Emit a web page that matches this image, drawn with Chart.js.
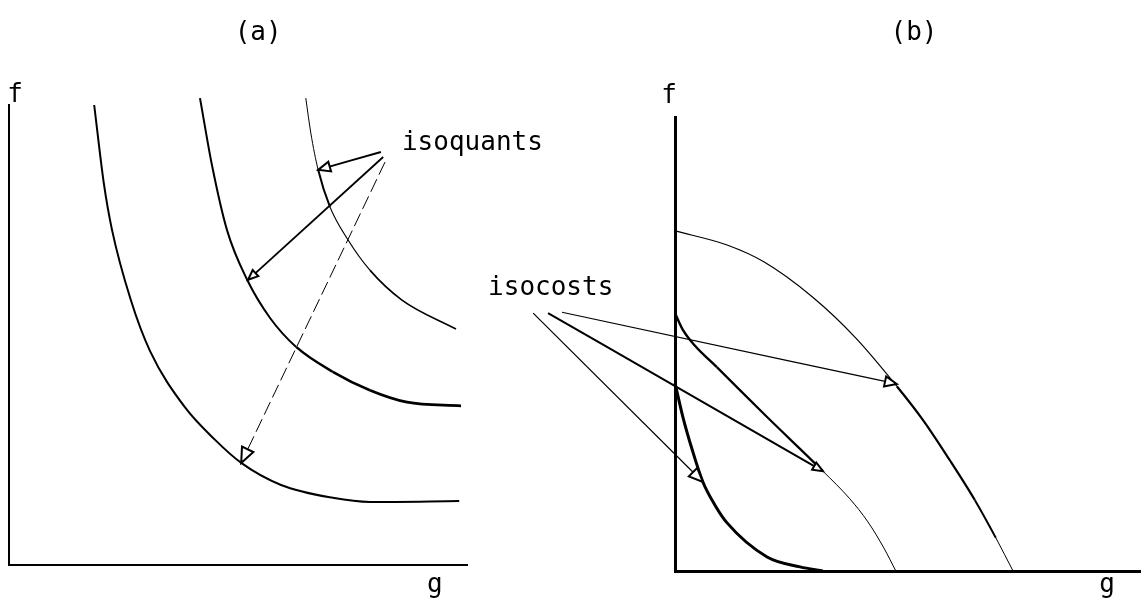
<!DOCTYPE html>
<html>
<head>
<meta charset="utf-8">
<script src="https://cdn.jsdelivr.net/npm/chart.js@4.4.0/dist/chart.umd.min.js"></script>
<style>
  body { margin: 0; background: #fff; }
  #wrap { position: relative; width: 1147px; height: 606px; }
  canvas { position: absolute; top: 0; }
  #chartA { left: 0; }
  #chartB { left: 470px; }
</style>
</head>
<body>
<div id="wrap">
  <canvas id="chartA" width="600" height="606"></canvas>
  <canvas id="chartB" width="677" height="606"></canvas>
</div>
<script>
// panel (a) - isoquants, g on x, f on y, both 0..10
const isoquant1 = [[1.86, 10.0], [2.07, 8.30], [2.25, 7.28], [2.66, 5.76], [3.08, 4.65], [3.84, 3.43],
  [4.50, 2.72], [5.07, 2.22], [5.94, 1.74], [7.07, 1.46], [7.88, 1.37], [9.83, 1.39]];
const isoquant2 = [[4.17, 10.15], [4.43, 8.70], [4.76, 7.28], [5.20, 6.20], [5.70, 5.37], [6.27, 4.74],
  [7.07, 4.20], [7.88, 3.80], [8.69, 3.54], [9.87, 3.46]];
const isoquant3 = [[6.48, 10.15], [6.59, 9.39], [6.75, 8.59], [7.01, 7.78], [7.40, 7.07], [7.88, 6.41],
  [8.58, 5.76], [9.76, 5.13]];
const quantArrow1 = [[8.12, 8.98], [6.75, 8.59]];
const quantArrow2 = [[8.17, 8.87], [5.22, 6.20]];
const quantArrow3 = [[8.21, 8.76], [5.07, 2.22]];

// panel (b) - isocosts
const isocost1 = [[0, 4.14], [0.17, 3.39], [0.37, 2.67], [0.60, 1.96], [0.86, 1.45], [1.12, 1.06],
  [1.98, 0.31], [2.69, 0.09], [3.18, 0]];
const isocost2 = [[0, 5.68], [0.17, 5.31], [0.43, 4.96], [0.90, 4.49], [1.98, 3.39], [3.18, 2.20],
  [3.76, 1.59], [4.15, 1.08], [4.49, 0.51], [4.75, 0]];
const isocost3 = [[0, 7.49], [1.12, 7.18], [1.91, 6.81], [2.95, 6.04], [3.89, 5.13], [4.77, 4.07],
  [5.33, 3.33], [5.91, 2.44], [6.45, 1.56], [6.90, 0.73], [7.27, 0]];
const costArrow1 = [[-3.05, 5.68], [0.60, 1.96]];
const costArrow2 = [[-2.73, 5.68], [3.18, 2.20]];
const costArrow3 = [[-2.43, 5.70], [4.77, 4.12]];

const toXY = arr => arr.map(p => ({ x: p[0], y: p[1] }));

// width may be a number or a list of widths, one per segment (the scan has uneven ink)
function line(points, width, extra) {
  const ds = {
    data: toXY(points),
    showLine: true,
    borderColor: '#000',
    borderWidth: Array.isArray(width) ? width[0] : width,
    pointRadius: 0,
    cubicInterpolationMode: 'monotone',
    clip: false
  };
  if (Array.isArray(width)) {
    ds.segment = { borderWidth: c => width[c.p0DataIndex] };
  }
  return Object.assign(ds, extra || {});
}

// labels and open arrow heads
const annotate = {
  id: 'annotate',
  afterDatasetsDraw(chart, args, opts) {
    const ctx = chart.ctx;
    const xs = chart.scales.x, ys = chart.scales.y;
    ctx.save();
    ctx.fillStyle = '#000';
    ctx.font = '26px "DejaVu Sans Mono"';
    ctx.textBaseline = 'alphabetic';
    (opts.texts || []).forEach(t => {
      ctx.textAlign = t.align || 'left';
      ctx.fillText(t.text, xs.getPixelForValue(t.x), ys.getPixelForValue(t.y));
    });
    chart.data.datasets.forEach((ds, i) => {
      if (!ds.arrowHead) return;
      const pts = chart.getDatasetMeta(i).data;
      const a = pts[0], b = pts[pts.length - 1];
      const ang = Math.atan2(b.y - a.y, b.x - a.x);
      const L = ds.arrowHead, W = L * 0.42;
      const bx = b.x - L * Math.cos(ang), by = b.y - L * Math.sin(ang);
      ctx.beginPath();
      ctx.moveTo(b.x, b.y);
      ctx.lineTo(bx + W * Math.sin(ang), by - W * Math.cos(ang));
      ctx.lineTo(bx - W * Math.sin(ang), by + W * Math.cos(ang));
      ctx.closePath();
      ctx.fillStyle = '#fff';
      ctx.fill();
      ctx.lineWidth = 2;
      ctx.strokeStyle = '#000';
      ctx.stroke();
    });
    ctx.restore();
  }
};

function axisOpts(min, max, horizontal, bw) {
  return {
    type: 'linear',
    min: min,
    max: max,
    grid: { display: false, drawTicks: false },
    ticks: { display: false },
    border: { display: true, color: '#000', width: bw },
    afterFit: s => { if (horizontal) s.height = 0; else s.width = 0; }
  };
}

function makeChart(id, datasets, padding, texts, bw) {
  return new Chart(document.getElementById(id), {
    type: 'scatter',
    data: { datasets: datasets },
    options: {
      responsive: false,
      animation: false,
      layout: { padding: padding },
      scales: {
        x: axisOpts(0, 10, true, bw),
        y: axisOpts(0, 10, false, bw)
      },
      plugins: {
        legend: { display: false },
        tooltip: { enabled: false },
        annotate: { texts: texts }
      }
    },
    plugins: [annotate]
  });
}

makeChart('chartA', [
  line(isoquant1, 2),
  line(isoquant2, [2, 2, 2, 2, 2, 2.4, 2.6, 2.8, 2.8]),
  line(isoquant3, [1, 1, 2, 1.2, 1.2, 1.6, 1.6]),
  line(quantArrow1, 2, { arrowHead: 12 }),
  line(quantArrow2, 1.8, { arrowHead: 10 }),
  line(quantArrow3, 1, { arrowHead: 15, borderDash: [14, 5] })
], { left: 9, right: 133, top: 105, bottom: 41 }, [
  { text: '(a)', x: 5.44, y: 11.41, align: 'center' },
  { text: 'f', x: 0.13, y: 10.07, align: 'center' },
  { text: 'g', x: 9.30, y: -0.59, align: 'center' },
  { text: 'isoquants', x: 8.58, y: 9.02 }
], 2);

makeChart('chartB', [
  line(isocost1, 3),
  line(isocost2, [2.4, 2.4, 2.4, 2.2, 2.2, 1, 1, 1, 1]),
  line(isocost3, [1.2, 1.2, 1.2, 1.2, 1.2, 2.2, 2.2, 2.2, 2, 1]),
  line(costArrow1, 1.2, { arrowHead: 14 }),
  line(costArrow2, 2, { arrowHead: 10 }),
  line(costArrow3, 1.2, { arrowHead: 12 })
], { left: 205, right: 7, top: 117, bottom: 35 }, [
  { text: '(b)', x: 5.14, y: 11.70, align: 'center' },
  { text: 'f', x: -0.13, y: 10.31, align: 'center' },
  { text: 'g', x: 9.29, y: -0.46, align: 'center' },
  { text: 'isocosts', x: -4.02, y: 6.08 }
], 3);
</script>
</body>
</html>
